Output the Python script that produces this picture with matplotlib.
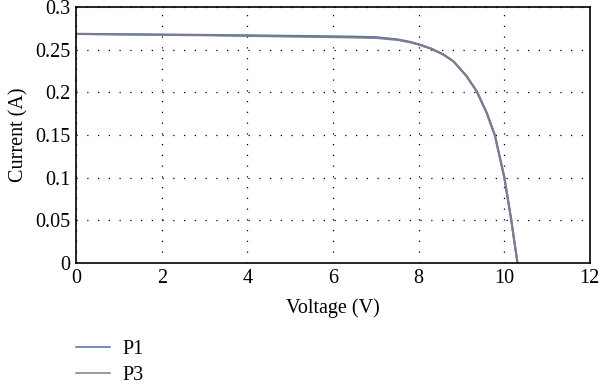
import matplotlib
matplotlib.use("Agg")
import matplotlib.pyplot as plt

# I-V curve readings
voltage = [0, 1, 2, 3, 4, 5, 6, 6.5, 7, 7.5, 7.8, 8.05, 8.3, 8.57, 8.81, 9.12, 9.36, 9.59, 9.78,
           10.0, 10.16, 10.31]
current_p1 = [0.2685, 0.268, 0.2676, 0.2672, 0.2667, 0.2661, 0.2655, 0.2651, 0.2645, 0.262, 0.259,
              0.2555, 0.251, 0.2445, 0.2365, 0.219, 0.201, 0.176, 0.150, 0.101, 0.052, 0.0]
current_p3 = [0.2683, 0.2678, 0.2673, 0.2668, 0.2661, 0.2653, 0.2646, 0.2642, 0.2637, 0.2614, 0.2586,
              0.2552, 0.2508, 0.2444, 0.2364, 0.2189, 0.2009, 0.1759, 0.1499, 0.1009, 0.0519, 0.0]
series_names = ["P1", "P3"]
xticks = [0, 2, 4, 6, 8, 10, 12]
yticks = [0, 0.05, 0.1, 0.15, 0.2, 0.25, 0.3]
ytick_labels = ["0", "0.05", "0.1", "0.15", "0.2", "0.25", "0.3"]

plt.rcParams['font.family'] = ['Liberation Serif', 'DejaVu Serif']

fig = plt.figure(figsize=(6, 3.85), dpi=100)
ax = fig.add_axes([0.127, 0.317, 0.856, 0.665])

l1, = ax.plot(voltage, current_p1, color="#4a6db3", lw=1.5, label=series_names[0])
l2, = ax.plot(voltage, current_p3, color="#7a7f8a", lw=1.5, label=series_names[1])

ax.set_xlim(0, 12)
ax.set_ylim(0, 0.3)
ax.set_xticks(xticks)
ax.set_yticks(yticks)
ax.set_yticklabels(ytick_labels)
ax.tick_params(length=0, labelsize=14.5, pad=4)
ax.grid(True, color="black", linestyle=(0, (1, 7.6)), linewidth=0.9)
ax.set_axisbelow(True)
for s in ax.spines.values():
    s.set_linewidth(1.2)

ax.set_xlabel("Voltage (V)", fontsize=14.5, labelpad=8)
ax.set_ylabel("Current (A)", fontsize=14.5, labelpad=5)

leg = fig.legend(handles=[l1, l2], loc="upper left", bbox_to_anchor=(0.127, 0.117),
                 frameon=False, fontsize=14.5, handlelength=1.7, handletextpad=0.6,
                 labelspacing=0.35, borderpad=0, borderaxespad=0)
for h in leg.get_lines():
    h.set_linewidth(1.1)

fig.savefig("out.png", dpi=100)
